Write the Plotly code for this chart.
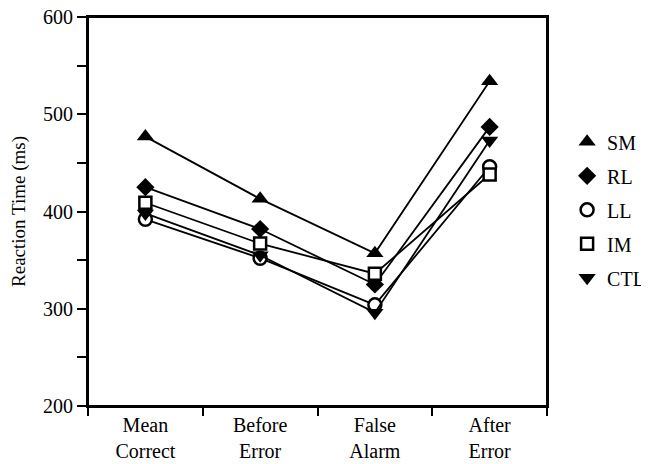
import plotly.graph_objects as go

categories = ["Mean<br>Correct", "Before<br>Error", "False<br>Alarm", "After<br>Error"]
sm = [477, 413, 357, 534]
rl = [425, 382, 325, 487]
ll = [392, 352, 304, 446]
im = [409, 367, 336, 438]
ctl = [398, 355, 296, 473]

y_tickvals = [200, 250, 300, 350, 400, 450, 500, 550, 600]
y_ticktext = ["200", "", "300", "", "400", "", "500", "", "600"]

series = [
    ("SM", sm, dict(symbol="triangle-up", size=15, color="black")),
    ("RL", rl, dict(symbol="diamond", size=14, color="black")),
    ("LL", ll, dict(symbol="circle", size=13, color="white", line=dict(color="black", width=2.5))),
    ("IM", im, dict(symbol="square", size=12, color="white", line=dict(color="black", width=2.5))),
    ("CTL", ctl, dict(symbol="triangle-down", size=15, color="black")),
]

FAM = "Liberation Serif, Times New Roman, serif"

fig = go.Figure()
for name, vals, marker in series:
    fig.add_trace(go.Scatter(
        x=categories, y=vals, name=name, legendgroup=name, showlegend=False,
        mode="lines+markers",
        line=dict(color="black", width=1.8),
        marker=marker,
    ))
# legend entries: markers only (no line), as in the reference
for name, vals, marker in series:
    fig.add_trace(go.Scatter(
        x=[None], y=[None], name=name, legendgroup=name, showlegend=True,
        mode="markers", marker=marker,
    ))

# plot frame drawn as a shape so the top edge is always visible
fig.add_shape(type="rect", xref="paper", yref="paper", x0=0, y0=0, x1=1, y1=1,
              line=dict(color="black", width=2), layer="above")

fig.update_layout(
    width=657, height=464,
    margin=dict(l=80, r=118, t=9, b=66),
    plot_bgcolor="white", paper_bgcolor="white",
    font=dict(family=FAM, size=20, color="black"),
    showlegend=True,
    legend=dict(
        xref="container", yref="container",
        x=0.851, xanchor="left", y=0.565, yanchor="middle",
        font=dict(family=FAM, size=20, color="black"),
        tracegroupgap=5, itemwidth=30,
        bgcolor="rgba(0,0,0,0)",
    ),
    xaxis=dict(
        type="category", range=[-0.5, 3.5],
        tickson="boundaries", ticks="outside", ticklen=8, tickwidth=2, tickcolor="black",
        showline=True, linecolor="black", linewidth=2, mirror=True,
        showgrid=False, zeroline=False, automargin=False,
        tickfont=dict(family=FAM, size=20, color="black"),
    ),
    yaxis=dict(
        range=[200, 600],
        tickvals=y_tickvals, ticktext=y_ticktext,
        ticks="outside", ticklen=9, tickwidth=2, tickcolor="black",
        showline=True, linecolor="black", linewidth=2, mirror=True,
        showgrid=False, zeroline=False, automargin=False,
        ticklabeloverflow="allow",
        tickfont=dict(family=FAM, size=20, color="black"),
        title=dict(text="Reaction Time (ms)",
                   font=dict(family=FAM, size=19, color="black")),
    ),
)

fig.write_html("out.html")
